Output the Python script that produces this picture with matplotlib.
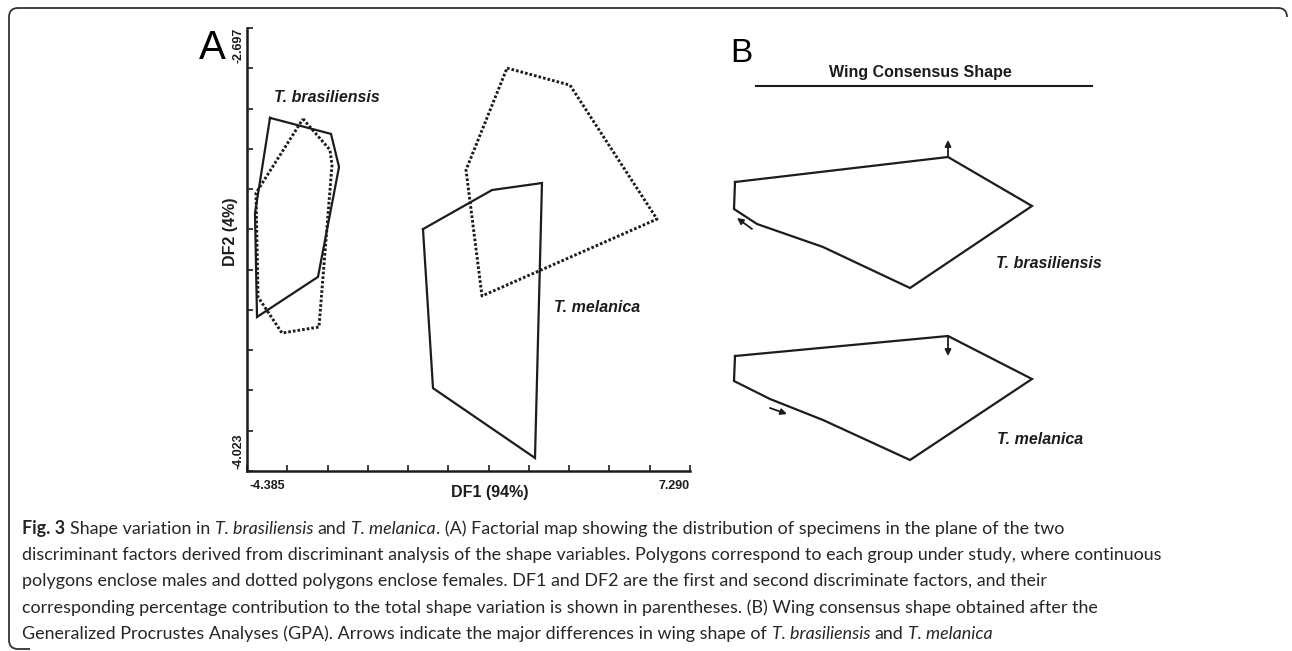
import numpy as np
import matplotlib.pyplot as plt
from matplotlib.path import Path
from matplotlib.patches import PathPatch

# Panel A: convex hulls in the plane of the discriminant factors (DF1, DF2)
bra_male_df1 = [-3.779, -2.171, -1.960, -2.514, -4.121, -4.174]
bra_male_df2 = [-2.966, -3.014, -3.113, -3.442, -3.562, -3.251]
bra_female_df1 = [-2.909, -2.198, -2.145, -2.488, -3.463, -4.095, -4.148]
bra_female_df2 = [-2.969, -3.062, -3.107, -3.592, -3.610, -3.502, -3.191]
mel_male_df1 = [0.253, 2.072, 3.389, 3.205, 0.517]
mel_male_df2 = [-3.299, -3.182, -3.161, -3.984, -3.775]
mel_female_df1 = [2.467, 4.127, 6.420, 1.808, 1.387]
mel_female_df2 = [-2.817, -2.868, -3.269, -3.499, -3.122]

df1_range = [-4.385, 7.290]
df2_range = [-4.023, -2.697]
n_ticks = 12

# Panel B: wing consensus landmarks
wing_bra_x = [0.01, 2.14, 2.98, 1.76, 0.89, 0.23, 0.00]
wing_bra_y = [0.27, 0.52, 0.03, -0.79, -0.38, -0.15, 0.00]
wing_mel_x = [0.01, 2.14, 2.98, 1.76, 0.89, 0.36, 0.00]
wing_mel_y = [0.25, 0.45, 0.02, -0.79, -0.39, -0.18, 0.00]
arrows_bra = [((2.14, 0.52), (2.14, 0.69)), ((0.18, -0.20), (0.03, -0.09))]
arrows_mel = [((2.14, 0.44), (2.14, 0.25)), ((0.36, -0.27), (0.53, -0.33))]

caption = [
    [("Fig. 3", "bold"), (" Shape variation in ", "normal"), ("T. brasiliensis", "italic"),
     (" and ", "normal"), ("T. melanica", "italic"),
     (". (A) Factorial map showing the distribution of specimens in the plane of the two", "normal")],
    [("discriminant factors derived from discriminant analysis of the shape variables. "
      "Polygons correspond to each group under study, where continuous", "normal")],
    [("polygons enclose males and dotted polygons enclose females. DF1 and DF2 are the "
      "first and second discriminate factors, and their", "normal")],
    [("corresponding percentage contribution to the total shape variation is shown in "
      "parentheses. (B) Wing consensus shape obtained after the", "normal")],
    [("Generalized Procrustes Analyses (GPA). Arrows indicate the major differences in "
      "wing shape of ", "normal"), ("T. brasiliensis", "italic"), (" and ", "normal"),
     ("T. melanica", "italic")],
]

W, H = 1292, 651
INK = "#1c1c1c"
ARIAL = "Liberation Sans"
CAP_FONT = "Lato"

fig = plt.figure(figsize=(W / 100, H / 100), dpi=100)

# overlay in pixel coordinates for frame and free text
bg = fig.add_axes([0, 0, 1, 1])
bg.set_xlim(0, W)
bg.set_ylim(H, 0)
bg.axis("off")

# frame with rounded corners
r = 9
verts = [(1287, 8 + r), (1287, 8), (1287 - r, 8), (9 + r, 8), (9, 8), (9, 8 + r),
         (9, 649 - r), (9, 649), (9 + r, 649), (30, 649)]
codes = [Path.MOVETO, Path.CURVE3, Path.CURVE3, Path.LINETO, Path.CURVE3, Path.CURVE3,
         Path.LINETO, Path.CURVE3, Path.CURVE3, Path.LINETO]
bg.add_patch(PathPatch(Path(verts, codes), fill=False, lw=1.3, color="#333333"))

# ---------------- panel A ----------------
ax = fig.add_axes([247 / W, (H - 471) / H, 443 / W, 443 / H])
ax.set_xlim(df1_range)
ax.set_ylim(df2_range)
ax.patch.set_alpha(0)
for s in ["top", "right"]:
    ax.spines[s].set_visible(False)
for s in ["left", "bottom"]:
    ax.spines[s].set_linewidth(1.8)
    ax.spines[s].set_color(INK)
ax.set_xticks(np.linspace(df1_range[0], df1_range[1], n_ticks))
ax.set_yticks(np.linspace(df2_range[0], df2_range[1], n_ticks))
ax.tick_params(direction="in", length=4, width=1.2, color=INK,
               labelbottom=False, labelleft=False)


def closed(v):
    return list(v) + [v[0]]


solid = dict(color=INK, lw=1.6, solid_joinstyle="miter", clip_on=False)
dotted = dict(color=INK, lw=2.1, linestyle=(0, (0.9, 0.7)), clip_on=False)
ax.plot(closed(bra_male_df1), closed(bra_male_df2), **solid)
ax.plot(closed(bra_female_df1), closed(bra_female_df2), **dotted)
ax.plot(closed(mel_male_df1), closed(mel_male_df2), **solid)
ax.plot(closed(mel_female_df1), closed(mel_female_df2), **dotted)

bg.text(212, 48, "A", fontsize=29, family=ARIAL, ha="center", va="center")
tick_kw = dict(fontsize=9, family=ARIAL, fontweight="bold", color=INK)
bg.text(238, 28, f"{df2_range[1]:.3f}", rotation=90, ha="center", va="top", **tick_kw)
bg.text(238, 469, f"{df2_range[0]:.3f}", rotation=90, ha="center", va="bottom", **tick_kw)
bg.text(249, 486, f"{df1_range[0]:.3f}", ha="left", va="center", **tick_kw)
bg.text(690, 486, f"{df1_range[1]:.3f}", ha="right", va="center", **tick_kw)
bg.text(490, 492, "DF1 (94%)", fontsize=11.5, family=ARIAL, fontweight="bold",
        ha="center", va="center", color=INK)
bg.text(230, 232, "DF2 (4%)", fontsize=11.5, family=ARIAL, fontweight="bold",
        rotation=90, ha="center", va="center", color=INK)

sp_kw = dict(fontsize=11.5, family=ARIAL, fontweight="bold", fontstyle="italic",
             ha="center", va="center", color=INK)
bg.text(327, 97, "T. brasiliensis", **sp_kw)
bg.text(597, 308, "T. melanica", **sp_kw)

# ---------------- panel B ----------------
bg.text(741, 54, "B", fontsize=24, family=ARIAL, ha="center", va="center")
bg.text(920, 73, "Wing Consensus Shape", fontsize=11.5, family=ARIAL,
        fontweight="bold", ha="center", va="center", color=INK)
bg.plot([756, 1092], [86, 86], color=INK, lw=1.5)


def wing_axes(top_px, ref_px, wx, wy, arrows):
    a = fig.add_axes([720 / W, (H - top_px - 170) / H, 390 / W, 170 / H])
    a.set_xlim(-0.14, 3.76)
    a.set_ylim((ref_px - top_px - 170) / 100, (ref_px - top_px) / 100)
    a.axis("off")
    a.plot(closed(wx), closed(wy), color=INK, lw=1.6, solid_joinstyle="miter")
    for (x0, y0), (x1, y1) in arrows:
        a.annotate("", xy=(x1, y1), xytext=(x0, y0),
                   arrowprops=dict(arrowstyle="-|>", mutation_scale=9, lw=1.3,
                                   color=INK, shrinkA=0, shrinkB=0))
    return a


wing_axes(130, 209, wing_bra_x, wing_bra_y, arrows_bra)
wing_axes(310, 381, wing_mel_x, wing_mel_y, arrows_mel)
bg.text(1049, 263, "T. brasiliensis", **sp_kw)
bg.text(1040, 440, "T. melanica", **sp_kw)

# ---------------- caption ----------------
renderer = fig.canvas.get_renderer()
cap_size = 12.9
probe1 = bg.text(0, 0, "n n", fontsize=cap_size, family=CAP_FONT)
probe2 = bg.text(0, 0, "nn", fontsize=cap_size, family=CAP_FONT)
space_w = (probe1.get_window_extent(renderer).width
           - probe2.get_window_extent(renderer).width)
probe1.remove()
probe2.remove()

y = 534
for line in caption:
    x = 22
    for seg, style in line:
        core = seg.strip()
        x += (len(seg) - len(seg.lstrip())) * space_w
        kw = dict(fontsize=cap_size, family=CAP_FONT, color="#262626",
                  ha="left", va="baseline")
        if style == "bold":
            kw["fontweight"] = "bold"
        elif style == "italic":
            kw["fontstyle"] = "italic"
        t = bg.text(x, y, core, **kw)
        x += t.get_window_extent(renderer).width
        x += (len(seg) - len(seg.rstrip())) * space_w
    y += 26.2

fig.savefig("out.png", dpi=100)
